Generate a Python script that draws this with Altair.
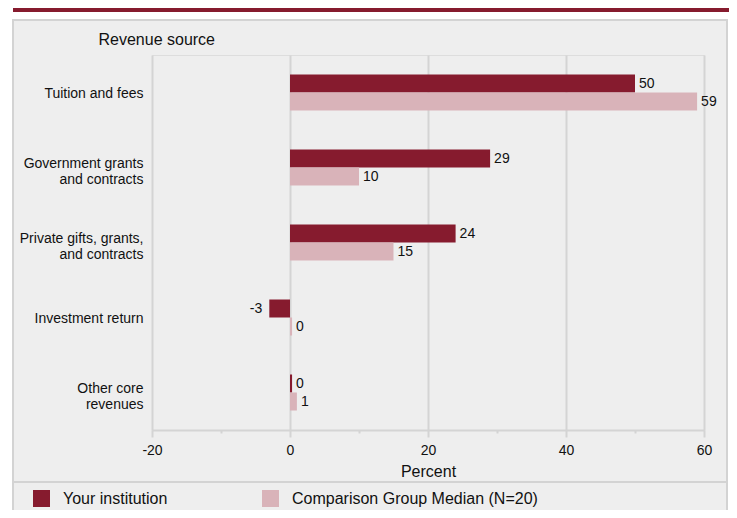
import altair as alt
import pandas as pd

categories = [
    "Tuition and fees",
    "Government grants\nand contracts",
    "Private gifts, grants,\nand contracts",
    "Investment return",
    "Other core\nrevenues",
]
institution = [50, 29, 24, -3, 0.3]
comparison = [59, 10, 15, 0.3, 1]
series = ["Your institution", "Comparison Group Median (N=20)"]
colors = ["#861b2e", "#d9b3b9"]
x_ticks = [-20, -10, 0, 10, 20, 30, 40, 50, 60]

rows = []
for c, a, b in zip(categories, institution, comparison):
    rows.append({"source": c, "group": series[0], "value": a})
    rows.append({"source": c, "group": series[1], "value": b})
df = pd.DataFrame(rows)
df["label"] = df["value"].round().astype(int).astype(str)

one = pd.DataFrame({"k": [0]})
FONT = "Liberation Sans"
GRID = "#d4d4d4"

# page decorations: white margins around the grey panel, red band, panel border, legend separator
white_left = alt.Chart(one).mark_rect(fill="white").encode(
    x=alt.value(-160), x2=alt.value(-140), y=alt.value(-60), y2=alt.value(480)
)
white_top = alt.Chart(one).mark_rect(fill="white").encode(
    x=alt.value(-160), x2=alt.value(600), y=alt.value(-60), y2=alt.value(-35)
)
white_right = alt.Chart(one).mark_rect(fill="white").encode(
    x=alt.value(576), x2=alt.value(600), y=alt.value(-35), y2=alt.value(480)
)
band = alt.Chart(one).mark_rect(fill="#861b2e").encode(
    x=alt.value(-139), x2=alt.value(590), y=alt.value(-47), y2=alt.value(-43)
)
panel = alt.Chart(one).mark_rect(fillOpacity=0, stroke="#d3d3d3", strokeWidth=2).encode(
    x=alt.value(-139), x2=alt.value(575), y=alt.value(-35), y2=alt.value(470)
)
sep = alt.Chart(one).mark_rule(color="#d3d3d3", strokeWidth=2).encode(
    x=alt.value(-139), x2=alt.value(575), y=alt.value(427)
)

y_enc = alt.Y(
    "source:N",
    sort=categories,
    scale=alt.Scale(paddingInner=0.52, paddingOuter=0.26),
    axis=alt.Axis(
        title="Revenue source",
        titleAngle=0,
        titleX=-54,
        titleY=-16,
        titleAlign="left",
        titleBaseline="middle",
        titleFontSize=16,
        titleFontWeight="normal",
        titleColor="#111111",
        labelFontSize=14,
        labelColor="#111111",
        labelPadding=9,
        labelLimit=250,
        labelLineHeight=16,
        labelExpr="split(datum.label, '\\n')",
        labelOffset={"condition": {"test": "indexof(datum.value, '\\n') >= 0", "value": -4}, "value": 1},
        ticks=False,
        domain=False,
    ),
)
yoff = alt.YOffset("group:N", sort=series, scale=alt.Scale(paddingInner=0, paddingOuter=0))
x_enc = alt.X(
    "value:Q",
    scale=alt.Scale(domain=[-20, 60], nice=False, zero=False),
    axis=alt.Axis(
        values=x_ticks,
        title="Percent",
        titleFontSize=16,
        titleFontWeight="normal",
        titleColor="#111111",
        titlePadding=6,
        labelFontSize=14,
        labelColor="#111111",
        labelPadding=6,
        labelFlush=False,
        labelOverlap=False,
        labelExpr="datum.value % 20 === 0 ? '' + datum.value : ''",
        domainColor=GRID,
        domainWidth=2,
        tickColor=GRID,
        tickWidth=2,
        tickSize={"condition": {"test": "datum.value % 20 === 0", "value": 7}, "value": 3},
        gridColor=GRID,
        gridWidth=2,
        gridOpacity={"condition": {"test": "datum.value % 20 === 0", "value": 1}, "value": 0},
    ),
)

bars = alt.Chart(df).mark_bar().encode(
    x=x_enc,
    y=y_enc,
    yOffset=yoff,
    color=alt.Color(
        "group:N",
        sort=series,
        scale=alt.Scale(domain=series, range=colors),
        legend=alt.Legend(
            orient="none",
            legendX=-119,
            legendY=435,
            direction="horizontal",
            title=None,
            symbolType="square",
            symbolSize=289,
            symbolStrokeWidth=0,
            symbolOpacity=1,
            labelFontSize=16,
            labelFont=FONT,
            labelColor="#111111",
            labelOffset=13,
            labelLimit=400,
            columnPadding=94,
            padding=0,
        ),
    ),
)

text_pos = alt.Chart(df).transform_filter("datum.value >= 0").mark_text(
    align="left", baseline="middle", dx=4, fontSize=14, color="#111111", font=FONT
).encode(x="value:Q", y=alt.Y("source:N", sort=categories), yOffset=yoff, text="label:N")

text_neg = alt.Chart(df).transform_filter("datum.value < 0").mark_text(
    align="right", baseline="middle", dx=-7, fontSize=14, color="#111111", font=FONT
).encode(x="value:Q", y=alt.Y("source:N", sort=categories), yOffset=yoff, text="label:N")

chart = (
    alt.layer(white_left, white_top, white_right, band, panel, sep, bars, text_pos, text_neg)
    .properties(
        width=552,
        height=375,
        padding={"left": 144, "top": 47, "right": 25, "bottom": 80},
        autosize=alt.AutoSizeParams(type="none"),
        background="#eeeeee",
    )
    .configure_view(stroke=None)
    .configure(font=FONT)
)

chart.save("out.html", embed_options={"renderer": "svg", "actions": False})
